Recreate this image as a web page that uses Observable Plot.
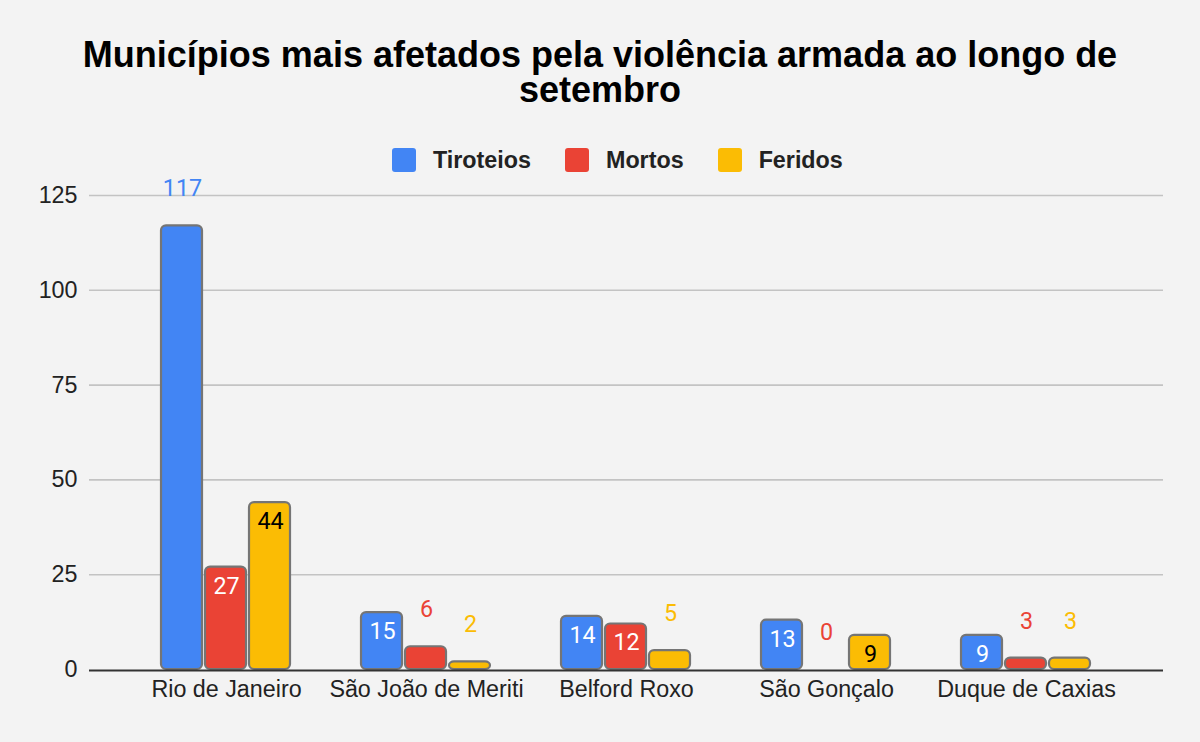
<!DOCTYPE html>
<html><head><meta charset="utf-8">
<script src="https://cdn.jsdelivr.net/npm/d3@7"></script>
<script src="https://cdn.jsdelivr.net/npm/@observablehq/plot@0.6"></script>
<style>
html,body{margin:0;padding:0;}
body{background:#f3f3f3;width:1200px;height:742px;overflow:hidden;position:relative;font-family:"Liberation Sans",Arial,sans-serif;}
#title{position:absolute;left:50px;width:1100px;top:37px;text-align:center;font-weight:bold;font-size:36px;line-height:35px;color:#000;}
#legend{position:absolute;left:392px;top:148px;display:flex;align-items:center;height:24px;}
.item{display:flex;align-items:center;margin-right:34px;}
.sw{width:24px;height:24px;border-radius:3px;margin-right:17px;}
.lab{font-weight:bold;font-size:23.3px;color:#222;}
#chart{position:absolute;left:0;top:170px;}
</style></head>
<body>
<div id="title">Municípios mais afetados pela violência armada ao longo de setembro</div>
<div id="legend"></div>
<div id="chart"></div>
<script>
const cities = ["Rio de Janeiro","São João de Meriti","Belford Roxo","São Gonçalo","Duque de Caxias"];
const seriesNames = ["Tiroteios","Mortos","Feridos"];
const tiroteios = [117,15,14,13,9];
const mortos = [27,6,12,0,3];
const feridos = [44,2,5,9,3];
const yTicks = [0,25,50,75,100,125];

const colors = ["#4285f4","#ea4335","#fbbc04"];
const insideText = ["#fff","#fff","#000"];
const seriesValues = [tiroteios, mortos, feridos];
const insets = [[35,124],[79,80],[123,36]];
const dxs = [-44,0,44];

// legend
const leg = document.getElementById("legend");
seriesNames.forEach((s,i)=>{
  const it = document.createElement("div"); it.className="item";
  it.innerHTML = `<div class="sw" style="background:${colors[i]}"></div><div class="lab">${s}</div>`;
  leg.appendChild(it);
});

const marks = [
  Plot.ruleY(yTicks.filter(d=>d>0), {stroke:"#c3c3c3", strokeWidth:1.6}),
  Plot.axisY(yTicks, {tickSize:0, tickPadding:12, fontSize:23.3, fill:"#222", label:null}),
  Plot.axisX(cities, {tickSize:0, tickPadding:11, fontSize:23.3, fill:"#222", label:null})
];
seriesValues.forEach((vals,i)=>{
  const data = cities.map((c,k)=>({city:c, value:vals[k]}));
  marks.push(Plot.barY(data, {x:"city", y:"value", fill:colors[i], stroke:"#757575", strokeWidth:2.2, rx:5,
    insetLeft:insets[i][0], insetRight:insets[i][1]}));
  const inside = data.filter(d=>d.value>=9 && d.value<100);
  const outside = data.filter(d=>!(d.value>=9 && d.value<100));
  marks.push(Plot.text(inside, {x:"city", y:"value", text:d=>String(d.value), dx:dxs[i], dy:19, fill:insideText[i], fontSize:23.3, fontFamily:"Roboto"}));
  marks.push(Plot.text(outside, {x:"city", y:"value", text:d=>String(d.value), dx:dxs[i], dy:-37, fill:colors[i], fontSize:23.3, fontFamily:"Roboto"}));
});
marks.push(Plot.ruleY([0], {stroke:"#333", strokeWidth:2, dy:1}));

const plot = Plot.plot({
  width:1200, height:572,
  marginLeft:89, marginRight:37, marginTop:25, marginBottom:73,
  style:{background:"transparent", fontFamily:"'Liberation Sans', Arial, sans-serif", overflow:"visible"},
  x:{type:"band", domain:cities, paddingInner:0, paddingOuter:0.175, axis:null},
  y:{domain:[0,125], axis:null},
  marks
});
document.getElementById("chart").appendChild(plot);
</script>
</body></html>
